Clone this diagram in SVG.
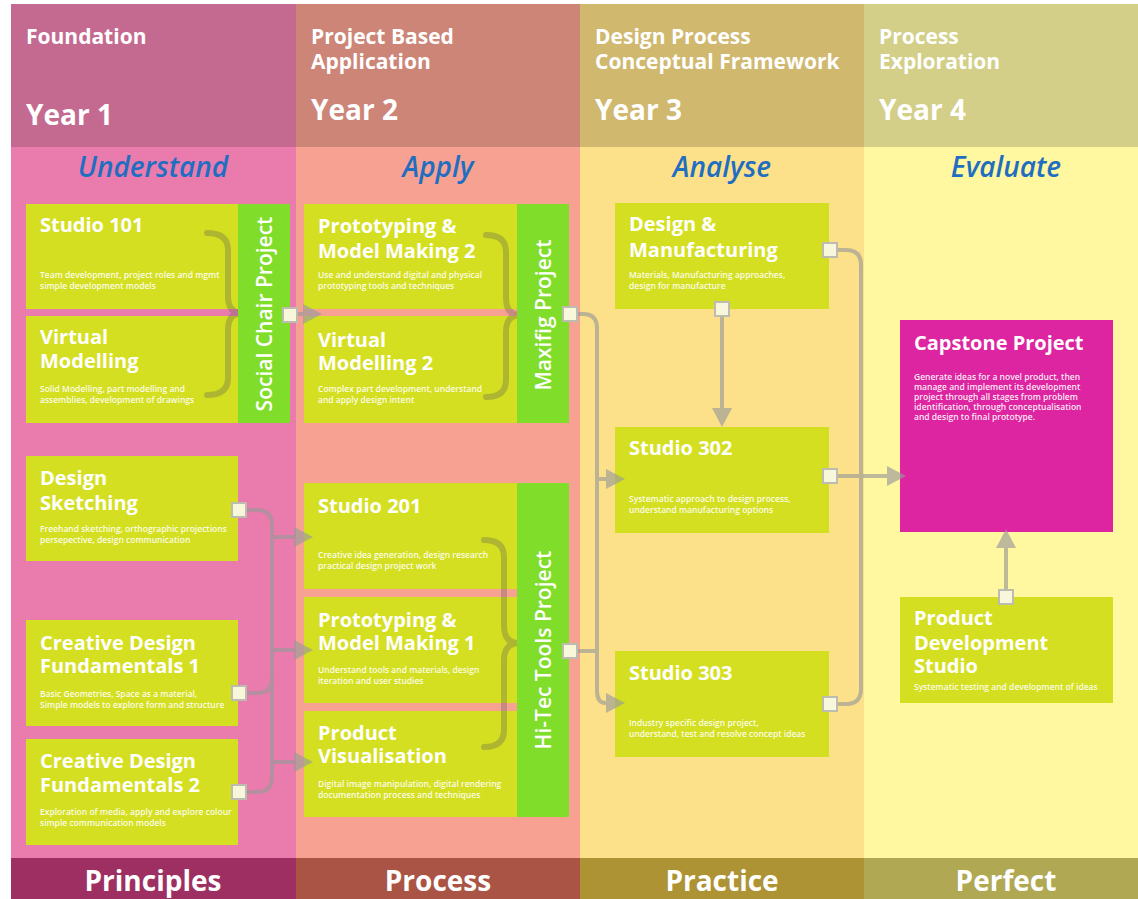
<svg xmlns="http://www.w3.org/2000/svg" width="1138" height="899" viewBox="0 0 1138 899">
<style>
text{font-family:"Open Sans","Liberation Sans",sans-serif;fill:#fff}
.hd{font-size:21px;font-weight:700}
.yr{font-size:28px;font-weight:700}
.sub{font-size:28px;font-weight:600;font-style:italic;fill:#1F6EC1;text-anchor:middle}
.ft{font-size:28px;font-weight:700;text-anchor:middle}
.t{font-size:20px;font-weight:700}
.d{font-size:8.5px;font-weight:600;fill-opacity:0.92}
.bx{fill:#D5DF21}
.bar{fill:#80DE2B}
.bt{font-size:21px;font-weight:600;text-anchor:middle}
.br{fill:none;stroke:#555;stroke-opacity:0.3;stroke-width:6;stroke-linecap:round}
.port{fill:#F8F7DC;stroke:#BDBCB0;stroke-width:2}
.cn{fill:none;stroke:#9a9a9a;stroke-width:4}
</style>
<defs>
<marker id="ah" markerUnits="userSpaceOnUse" viewBox="0 -10 19 20" markerWidth="19" markerHeight="20" refX="0" refY="0" orient="auto">
<path d="M0,-10 L19,0 L0,10 z" fill="#9a9a9a"/>
</marker>
</defs>
<rect width="1138" height="899" fill="#fff"/>
<g id="columns">
<rect x="11" y="4" width="285" height="143" fill="#C46A90"/>
<rect x="11" y="147" width="285" height="711" fill="#E97CAD"/>
<rect x="11" y="858" width="285" height="41" fill="#9D2F62"/>
<rect x="296" y="4" width="284" height="143" fill="#CC8577"/>
<rect x="296" y="147" width="284" height="711" fill="#F6A192"/>
<rect x="296" y="858" width="284" height="41" fill="#A95444"/>
<rect x="580" y="4" width="284" height="143" fill="#D0B86F"/>
<rect x="580" y="147" width="284" height="711" fill="#FCE18A"/>
<rect x="580" y="858" width="284" height="41" fill="#AE9335"/>
<rect x="864" y="4" width="274" height="143" fill="#D3CF88"/>
<rect x="864" y="147" width="274" height="711" fill="#FFF8A0"/>
<rect x="864" y="858" width="274" height="41" fill="#B0A852"/>
<text class="hd" x="26" y="44">Foundation</text>
<text class="yr" x="26" y="125">Year 1</text>
<text class="hd" x="311" y="44">Project Based</text>
<text class="hd" x="311" y="69">Application</text>
<text class="yr" x="311" y="120">Year 2</text>
<text class="hd" x="595" y="44">Design Process</text>
<text class="hd" x="595" y="69">Conceptual Framework</text>
<text class="yr" x="595" y="120">Year 3</text>
<text class="hd" x="879" y="44">Process</text>
<text class="hd" x="879" y="69">Exploration</text>
<text class="yr" x="879" y="120">Year 4</text>
<text class="sub" x="153" y="177">Understand</text>
<text class="sub" x="438" y="177">Apply</text>
<text class="sub" x="722" y="177">Analyse</text>
<text class="sub" x="1006" y="177">Evaluate</text>
<text class="ft" x="153" y="891">Principles</text>
<text class="ft" x="438" y="891">Process</text>
<text class="ft" x="722" y="891">Practice</text>
<text class="ft" x="1006" y="891">Perfect</text>
</g>
<g id="studio101"><rect class="bx" x="26" y="204" width="212" height="105"/>
<text class="t" x="40" y="232">Studio 101</text>
<text class="d" x="40" y="278">Team development, project roles and mgmt</text>
<text class="d" x="40" y="288.5">simple development models</text></g>
<g id="virtual-modelling"><rect class="bx" x="26" y="316" width="212" height="107"/>
<text class="t" x="40" y="344">Virtual</text><text class="t" x="40" y="368">Modelling</text>
<text class="d" x="40" y="392">Solid Modelling, part modelling and</text>
<text class="d" x="40" y="402.5">assemblies, development of drawings</text></g>
<g id="design-sketching"><rect class="bx" x="26" y="456" width="212" height="105"/>
<text class="t" x="40" y="485">Design</text><text class="t" x="40" y="510">Sketching</text>
<text class="d" x="40" y="532">Freehand sketching, orthographic projections</text>
<text class="d" x="40" y="542.5">persepective, design communication</text></g>
<g id="cdf1"><rect class="bx" x="26" y="620" width="212" height="106"/>
<text class="t" x="40" y="650">Creative Design</text><text class="t" x="40" y="673">Fundamentals 1</text>
<text class="d" x="40" y="697">Basic Geometries, Space as a material,</text>
<text class="d" x="40" y="707.5">Simple models to explore form and structure</text></g>
<g id="cdf2"><rect class="bx" x="26" y="739" width="212" height="106"/>
<text class="t" x="40" y="768">Creative Design</text><text class="t" x="40" y="792">Fundamentals 2</text>
<text class="d" x="40" y="815">Exploration of media, apply and explore colour</text>
<text class="d" x="40" y="825.5">simple communication models</text></g>
<g id="pmm2"><rect class="bx" x="304" y="204" width="213" height="105"/>
<text class="t" x="318" y="233">Prototyping &amp;</text><text class="t" x="318" y="258">Model Making 2</text>
<text class="d" x="318" y="278">Use and understand digital and physical</text>
<text class="d" x="318" y="289">prototyping tools and techniques</text></g>
<g id="vm2"><rect class="bx" x="304" y="316" width="213" height="107"/>
<text class="t" x="318" y="347">Virtual</text><text class="t" x="318" y="370">Modelling 2</text>
<text class="d" x="318" y="392">Complex part development, understand</text>
<text class="d" x="318" y="402.5">and apply design intent</text></g>
<g id="studio201"><rect class="bx" x="304" y="483" width="213" height="106"/>
<text class="t" x="318" y="513">Studio 201</text>
<text class="d" x="318" y="558">Creative idea generation, design research</text>
<text class="d" x="318" y="569">practical design project work</text></g>
<g id="pmm1"><rect class="bx" x="304" y="597" width="213" height="106"/>
<text class="t" x="318" y="627">Prototyping &amp;</text><text class="t" x="318" y="650">Model Making 1</text>
<text class="d" x="318" y="673">Understand tools and materials, design</text>
<text class="d" x="318" y="683.5">iteration and user studies</text></g>
<g id="product-visualisation"><rect class="bx" x="304" y="711" width="213" height="106"/>
<text class="t" x="318" y="740">Product</text><text class="t" x="318" y="763">Visualisation</text>
<text class="d" x="318" y="787">Digital image manipulation, digital rendering</text>
<text class="d" x="318" y="797.5">documentation process and techniques</text></g>
<g id="design-manufacturing"><rect class="bx" x="615" y="203" width="214" height="106"/>
<text class="t" x="629" y="231">Design &amp;</text><text class="t" x="629" y="257">Manufacturing</text>
<text class="d" x="629" y="278">Materials, Manufacturing approaches,</text>
<text class="d" x="629" y="288.5">design for manufacture</text></g>
<g id="studio302"><rect class="bx" x="615" y="427" width="214" height="106"/>
<text class="t" x="629" y="455">Studio 302</text>
<text class="d" x="629" y="502">Systematic approach to design process,</text>
<text class="d" x="629" y="512.5">understand manufacturing options</text></g>
<g id="studio303"><rect class="bx" x="615" y="651" width="214" height="106"/>
<text class="t" x="629" y="680">Studio 303</text>
<text class="d" x="629" y="726">Industry specific design project,</text>
<text class="d" x="629" y="737">understand, test and resolve concept ideas</text></g>
<g id="capstone"><rect x="900" y="320" width="213" height="212" fill="#DD25A1"/>
<text class="t" x="914" y="350">Capstone Project</text>
<text class="d" x="914" y="380">Generate ideas for a novel product, then</text>
<text class="d" x="914" y="390">manage and implement its development</text>
<text class="d" x="914" y="400">project through all stages from problem</text>
<text class="d" x="914" y="410">identification, through conceptualisation</text>
<text class="d" x="914" y="420">and design to final prototype.</text></g>
<g id="product-development-studio"><rect class="bx" x="900" y="597" width="213" height="106"/>
<text class="t" x="914" y="625">Product</text><text class="t" x="914" y="650">Development</text><text class="t" x="914" y="673">Studio</text>
<text class="d" x="914" y="690">Systematic testing and development of ideas</text></g>
<g id="braces">
<path class="br" d="M207,233 Q228,233 228,250 V296 Q228,313 242,313 Q228,313 228,330 V378 Q228,395 207,395"/>
<path class="br" d="M486,235 Q506,235 506,252 V298 Q506,315 520,315 Q506,315 506,332 V380 Q506,397 486,397"/>
<path class="br" d="M484,540 Q504,540 504,557 V626 Q504,643 519,643 Q504,643 504,660 V730 Q504,747 484,747"/>
</g>
<g id="social-chair-project"><rect class="bar" x="238" y="204" width="52" height="219"/>
<text class="bt" transform="translate(264,314) rotate(-90)" y="7.5">Social Chair Project</text></g>
<g id="maxifig-project"><rect class="bar" x="517" y="204" width="52" height="219"/>
<text class="bt" transform="translate(543,315) rotate(-90)" y="7.5">Maxifig Project</text></g>
<g id="hitec-tools-project"><rect class="bar" x="517" y="483" width="52" height="334"/>
<text class="bt" transform="translate(543,650) rotate(-90)" y="7.5">Hi-Tec Tools Project</text></g>
<g id="connectors" opacity="0.65">
<path class="cn" d="M297,314 H303" marker-end="url(#ah)"/>
<path class="cn" d="M577,314 H583 Q597,314 597,328 V691 Q597,703 606,703" marker-end="url(#ah)"/>
<path class="cn" d="M597,479 H606" marker-end="url(#ah)"/>
<path class="cn" d="M577,651 H597"/>
<path class="cn" d="M722,316 V408" marker-end="url(#ah)"/>
<path class="cn" d="M837,250 H846 Q861,250 861,265 V689 Q861,704 846,704 H837"/>
<path class="cn" d="M837,476 H887" marker-end="url(#ah)"/>
<path class="cn" d="M1006,590 V548" marker-end="url(#ah)"/>
<path class="cn" d="M246,510 H257 Q272,510 272,525 V777 Q272,792 257,792 H246"/>
<path class="cn" d="M246,693 H257 Q272,693 272,678"/>
<path class="cn" d="M272,537 H294" marker-end="url(#ah)"/>
<path class="cn" d="M272,650 H294" marker-end="url(#ah)"/>
<path class="cn" d="M272,762 H294" marker-end="url(#ah)"/>
</g>
<g id="ports">
<rect class="port" x="283" y="308" width="14" height="14"/>
<rect class="port" x="563" y="307" width="14" height="14"/>
<rect class="port" x="563" y="644" width="14" height="14"/>
<rect class="port" x="232" y="503" width="14" height="14"/>
<rect class="port" x="232" y="686" width="14" height="14"/>
<rect class="port" x="232" y="785" width="14" height="14"/>
<rect class="port" x="715" y="302" width="14" height="14"/>
<rect class="port" x="823" y="243" width="14" height="14"/>
<rect class="port" x="823" y="469" width="14" height="14"/>
<rect class="port" x="823" y="697" width="14" height="14"/>
<rect class="port" x="999" y="590" width="14" height="14"/>
</g>
</svg>
